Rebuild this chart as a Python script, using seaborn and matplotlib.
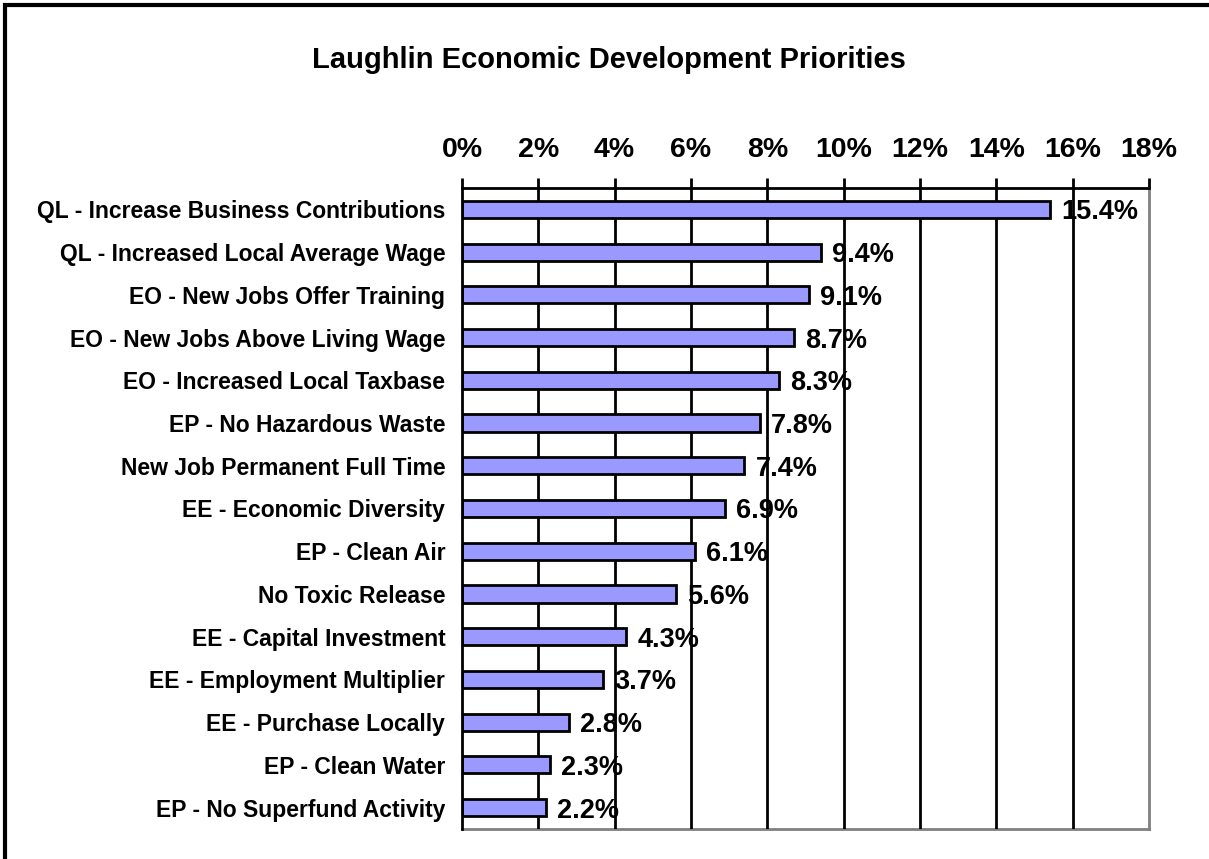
import matplotlib
matplotlib.use("Agg")
import matplotlib.pyplot as plt
import matplotlib.patches as mpatches
import numpy as np
import pandas as pd
import seaborn as sns

categories = [
    "QL - Increase Business Contributions",
    "QL - Increased Local Average Wage",
    "EO - New Jobs Offer Training",
    "EO - New Jobs Above Living Wage",
    "EO - Increased Local Taxbase",
    "EP - No Hazardous Waste",
    "New Job Permanent Full Time",
    "EE - Economic Diversity",
    "EP - Clean Air",
    "No Toxic Release",
    "EE - Capital Investment",
    "EE - Employment Multiplier",
    "EE - Purchase Locally",
    "EP - Clean Water",
    "EP - No Superfund Activity",
]
values = [15.4, 9.4, 9.1, 8.7, 8.3, 7.8, 7.4, 6.9, 6.1, 5.6, 4.3, 3.7, 2.8, 2.3, 2.2]
x_ticks = [0, 2, 4, 6, 8, 10, 12, 14, 16, 18]
title = "Laughlin Economic Development Priorities"

sns.set_style("white")
plt.rcParams["font.family"] = ["Liberation Sans", "DejaVu Sans"]
plt.rcParams["font.weight"] = "bold"
plt.rcParams["text.color"] = "black"
plt.rcParams["xtick.color"] = "black"
plt.rcParams["ytick.color"] = "black"

df = pd.DataFrame({"category": categories, "value": values})

fig = plt.figure(figsize=(12.09, 8.59), dpi=100)
ax = fig.add_axes([462 / 1209, 1 - 829 / 859, (1149 - 462) / 1209, (829 - 188) / 859])

# bars sit above the gridlines; gridlines sit above the value labels
sns.barplot(data=df, x="value", y="category", orient="h", ax=ax,
            color="#9999FF", saturation=1, width=0.4,
            edgecolor="black", linewidth=2, zorder=6)

ax.set_xlim(0, 18)
ax.set_ylim(len(categories) - 0.5, -0.5)

for t in x_ticks[1:-1]:
    ax.axvline(t, color="black", linewidth=2, zorder=5)

ax.xaxis.tick_top()
ax.set_xticks(x_ticks)
ax.set_xticklabels([f"{t}%" for t in x_ticks], fontsize=20.5, fontweight="bold")
ax.tick_params(axis="x", direction="out", length=7, width=2, color="black", pad=11)

ax.set_yticks(range(len(categories)))
ax.set_yticklabels(categories, fontsize=16.5, fontweight="bold")
ax.tick_params(axis="y", which="major", length=0, pad=12)
ax.set_yticks(np.arange(-0.5, len(categories), 1), minor=True)
ax.tick_params(axis="y", which="minor", direction="out", length=6, width=2, color="black")

ax.set_xlabel("")
ax.set_ylabel("")

for side in ["top", "left"]:
    ax.spines[side].set_color("black")
    ax.spines[side].set_linewidth(2)
    ax.spines[side].set_zorder(7)
for side in ["right", "bottom"]:
    ax.spines[side].set_color("#808080")
    ax.spines[side].set_linewidth(2)
    ax.spines[side].set_visible(True)

for i, v in enumerate(values):
    ax.annotate(f"{v:.1f}%", xy=(v, i), xytext=(8, 0), textcoords="offset points",
                ha="left", va="center_baseline", fontsize=19.5, fontweight="bold", zorder=4)

fig.text(609 / 1209, 1 - 60 / 859, title, ha="center", va="center",
         fontsize=21, fontweight="bold")

# outer frame of the chart area
fig.patches.append(mpatches.Rectangle((5 / 1209, -0.05), 1.1, 1 - 5 / 859 + 0.05,
                                      transform=fig.transFigure, fill=False,
                                      edgecolor="black", linewidth=3))

fig.savefig("out.png", dpi=100, facecolor="white")
